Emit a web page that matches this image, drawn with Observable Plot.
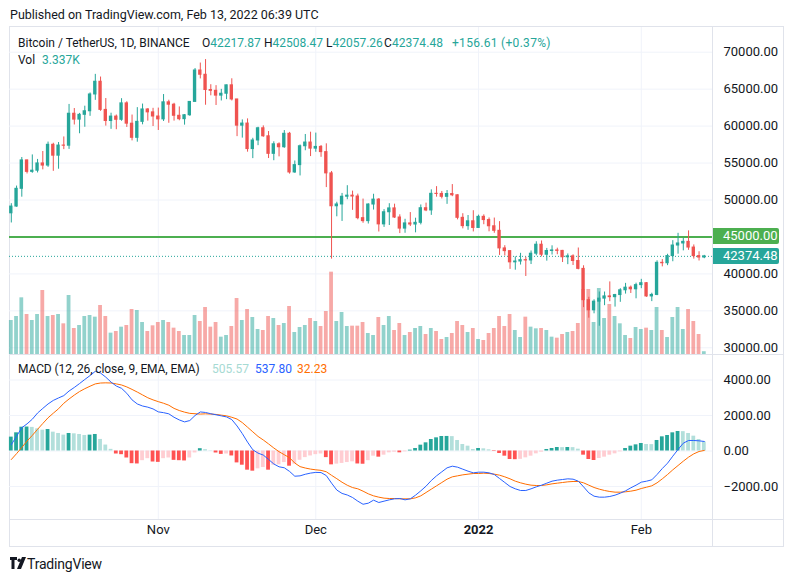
<!DOCTYPE html>
<html>
<head>
<meta charset="utf-8">
<script src="https://cdn.jsdelivr.net/npm/d3@7"></script>
<script src="https://cdn.jsdelivr.net/npm/@observablehq/plot@0.6"></script>
<style>
  html, body { margin: 0; padding: 0; background: #ffffff; }
  #wrap { position: relative; width: 793px; height: 582px; overflow: hidden; background: #ffffff;
          font-family: Roboto, "Noto Sans", sans-serif; color: #131722; }
  .t { position: absolute; white-space: nowrap; font-size: 12px; line-height: 16px; }
  .hl { position: absolute; background: #e0e3eb; }
  .box { position: absolute; left: 713px; width: 66px; height: 16px; line-height: 16px; color: #fff;
         font-size: 13px; padding-left: 10px; box-sizing: border-box; border-radius: 0 2px 2px 0; }
</style>
</head>
<body>
<div id="wrap"></div>
<script>
// ---------------- data ----------------
const startDate = "2021-10-04";
const openP = [48199,49112,51514,55361,53805,53967,54949,54659,57471,55996,57367,57347,61672,60875,61528,62009,64280,66001,62193,60688,61286,60852,63078,60328,58413,60575,62253,61859,
61299,60911,63219,62896,61395,60937,61470,63273,67525,66947,64882,64774,64122,64380,65519,63606,60058,60344,56891,58052,59707,58622,56247,57541,57139,58960,53726,54721,57274,57776,
56950,57184,56480,53602,49152,49397,50441,50588,50471,47545,47140,49389,50053,46702,48343,48864,47632,46131,46834,46681,46914,48889,48588,50838,50821,50429,50809,50640,47588,46464,47120,
46216,47722,47286,46446,45832,43451,43082,41566,41679,41864,41822,42735,43949,42592,43099,43177,43113,42250,42375,41744,40680,36445,35071,36244,36654,36954,36852,37138,37784,38138,37917,
38483,38743,36952,37154,41500,41441,42412,43840,44118,44338,43565,42407,42217.87];
const highP = [49500,51886,55750,55400,56100,55490,56561,57839,57680,57777,58532,62933,62378,61718,62695,64486,67000,66639,63732,61747,61500,63710,63293,61496,62499,62980,62359,62405,
62437,64270,63500,63086,62595,61560,63286,67789,68530,69000,65600,65473,64971,65550,66401,63617,60840,60976,58350,59845,60029,59266,57875,57735,59398,59150,55280,57445,58865,59176,
59053,57375,57600,53859,49699,50891,51936,51200,50797,50125,49485,50777,50189,48700,49500,49436,47995,47392,48300,47537,49328,49576,51375,51810,51156,51280,52088,50704,48142,47900,48548,
47954,47990,47570,47557,47070,43816,43145,42300,42786,42248,43100,44350,44458,43448,43800,43480,43180,42700,42579,43505,41100,36835,36499,37550,37545,38919,37234,38000,38720,38359,38744,
39265,38834,37387,41772,41939,42656,44500,45492,44798,45821,43920,43000,42508.47];
const lowP = [46891,49022,50382,53525,53617,53661,54080,54416,53879,54167,56818,56850,60150,58963,59844,61322,63481,62000,60000,59562,59510,60650,59817,58000,57820,60174,60673,59945,
59405,60624,60382,60677,60721,60129,61322,63273,66382,62822,64100,62788,63400,63577,63400,58574,58373,56474,55600,57353,58486,55610,55317,55837,57000,53500,53611,53256,56666,55875,
56458,55777,51680,42000,47727,47100,50039,48600,47320,46852,46751,48638,45672,46290,46547,47511,45456,45500,46406,45558,46630,48421,47920,50384,50142,49412,50449,47313,46096,45900,45678,
46208,46654,45696,45500,42500,42430,40610,40501,41200,39650,41268,42450,42311,41725,42555,42592,41540,41251,41138,40553,35440,34008,34601,32917,35701,36234,35507,36155,37268,37351,36632,
38000,36832,36250,37052,40954,41116,41645,42667,43117,43188,42000,41748,42057.26];
const closeP = [49112,51514,55361,53805,53967,54949,54659,57471,55996,57367,57347,61672,60875,61528,62009,64280,66001,62193,60688,61286,60852,63078,60328,58413,60575,62253,61859,61299,
60911,63219,62896,61395,60937,61470,63273,67525,66947,64882,64774,64122,64380,65519,63606,60058,60344,56891,58052,59707,58622,56247,57541,57139,58960,53726,54721,57274,57776,56950,
57184,56480,53602,49152,49397,50441,50588,50471,47545,47140,49389,50053,46702,48343,48864,47632,46131,46834,46681,46914,48889,48588,50838,50821,50429,50809,50640,47588,46464,47120,46216,
47722,47286,46446,45832,43451,43082,41566,41679,41864,41822,42735,43949,42592,43099,43177,43113,42250,42375,41744,40680,36445,35071,36244,36654,36954,36852,37138,37784,38138,37917,38483,
38743,36952,37154,41500,41441,42412,43840,44118,44338,43565,42407,42217.87,42374.48];
const volume = [40800,45600,68000,48000,40800,48000,76800,45600,46800,48000,36800,70800,31200,34800,45600,46800,44800,58800,45600,25600,27600,32800,34800,54000,52800,38400,27600,34400,
38400,40800,38400,31600,27600,22800,22800,46800,39600,56400,32800,38400,20800,22800,33600,67200,40800,54000,44400,30000,28800,45600,43200,34800,37200,57600,26400,32400,34800,43200,
39600,33600,51600,98800,39600,50400,33600,34000,34000,38400,25200,22800,44400,34800,45600,28800,37200,22800,26400,31200,33600,24000,31200,27600,18000,20400,25200,39600,34800,26400,31200,
18000,16800,25200,31200,45600,33600,48000,28800,20400,44800,32800,30800,31200,28800,20800,19600,24000,26400,27600,37200,78000,78000,38400,79200,43200,60000,45600,36800,22800,19200,32400,
30000,31600,28800,56400,28800,20400,44400,56400,30000,54000,39600,24000,3337];
const macdLine = [355,830,1310,1530,1790,2140,2400,2650,2850,2990,
3120,3380,3580,3800,4030,4250,4490,4390,4160,3880,
3660,3530,3250,2880,2650,2535,2470,2370,2205,2160,
2095,1900,1750,1640,1715,2000,2200,2170,2100,2040,
1980,1920,1770,1410,980,500,70,-120,-230,-475,
-730,-890,-945,-1150,-1420,-1400,-1310,-1245,-1205,-1215,
-1385,-1810,-2200,-2390,-2480,-2620,-2826,-3000,-2940,-2770,
-2902,-2826,-2751,-2695,-2676,-2751,-2695,-2488,-2244,-1981,
-1662,-1399,-1174,-948,-855,-911,-1024,-1136,-1230,-1193,
-1193,-1230,-1324,-1549,-1775,-2000,-2131,-2225,-2225,-2131,
-2019,-1925,-1812,-1700,-1643,-1606,-1568,-1587,-1700,-2019,
-2357,-2545,-2601,-2601,-2563,-2488,-2376,-2244,-2075,-1925,
-1756,-1700,-1624,-1324,-986,-685,-291,85,441,592,
592,573,537.80];
const signalLine = [-480,-150,200,560,880,1220,1550,1870,2130,2380,
2690,2930,3150,3350,3510,3650,3780,3830,3840,3830,
3780,3720,3610,3470,3320,3160,3000,2880,2780,2690,
2580,2400,2280,2190,2120,2100,2080,2095,2080,2060,
2020,1980,1900,1800,1600,1340,1080,820,620,400,
170,-40,-210,-380,-680,-880,-960,-1020,-1060,-1090,
-1170,-1370,-1560,-1760,-1930,-2060,-2130,-2263,-2413,-2526,
-2601,-2657,-2676,-2676,-2695,-2695,-2695,-2639,-2526,-2338,
-2150,-1962,-1775,-1587,-1455,-1399,-1343,-1305,-1268,-1268,
-1249,-1268,-1305,-1362,-1455,-1568,-1700,-1793,-1869,-1925,
-1944,-1944,-1906,-1850,-1812,-1775,-1737,-1718,-1718,-1793,
-1925,-2056,-2150,-2225,-2282,-2319,-2319,-2300,-2263,-2207,
-2113,-2038,-1962,-1793,-1568,-1324,-1061,-817,-573,-347,
-160,-28,32.23];
const histogram = [782,1024,1341,1350,1330,1248,1173,1210,1061,987,
894,987,968,931,875,894,931,652,335,93,
-169,-207,-394,-714,-730,-545,-432,-620,-640,-432,
-394,-526,-545,-560,-394,-110,130,74,15,-112,
-190,-170,-279,-670,-800,-1080,-1136,-1005,-931,-1080,
-800,-780,-652,-856,-745,-521,-372,-279,-205,-168,
-372,-780,-740,-700,-650,-610,-730,-745,-545,-291,
-347,-235,-103,-66,-103,-47,47,141,329,460,
648,742,817,820,810,592,366,272,85,141,
122,66,-28,-141,-291,-479,-490,-470,-385,-291,
-160,-66,85,141,197,190,197,190,103,-235,
-479,-535,-423,-347,-235,-160,-47,141,272,347,
423,366,360,592,798,873,1024,1099,1090,986,
836,648,505.57];
const priceTicks = [30000,35000,40000,45000,50000,55000,60000,65000,70000];
const macdTicks = [-2000,0,2000,4000];
const timeTickDates = ["2021-11-01","2021-12-01","2022-01-01","2022-02-01"];
const timeTickLabels = ["Nov","Dec","2022","Feb"];
const levelPrice = 45000;
const lastPrice = 42374.48;

// ---------------- build table ----------------
const DAY = 864e5;
const day0 = new Date(startDate + "T00:00:00Z");
const shift = (d, f) => new Date(+d + f * DAY);
const rows = closeP.map((c, i) => ({
  date: d3.utcDay.offset(day0, i),
  open: openP[i], high: highP[i], low: lowP[i], close: c,
  volume: volume[i], macd: macdLine[i], signal: signalLine[i], hist: histogram[i],
  up: c >= openP[i]
}));
rows.forEach((r, i) => {
  const prev = i > 0 ? histogram[i - 1] : r.hist;
  r.histColor = r.hist >= 0 ? (r.hist >= prev ? "#26a69a" : "#b2dfdb") : (r.hist <= prev ? "#ff5252" : "#ffcdd2");
});
const ups = rows.filter(r => r.up), downs = rows.filter(r => !r.up);
const timeTicks = timeTickDates.map((d, i) => ({date: new Date(d + "T00:00:00Z"), label: timeTickLabels[i]}));

const TEAL = "#26a69a", RED = "#ef5350", GRID = "#f0f3fa";
const W = 793, ML = 9, MR = 81;
const xDomain = [shift(day0, -0.343), shift(day0, 133.56)];
const style = {background: "transparent", fontFamily: "Roboto, sans-serif", fontSize: "13px", color: "#131722", overflow: "visible"};
const PANE_TOP = 27, PANE_H = 327;
const priceDomain = [29094, 73342];

const wrap = document.getElementById("wrap");
function put(el, left, top) { el.style.position = "absolute"; el.style.left = left + "px"; el.style.top = top + "px"; wrap.appendChild(el); return el; }

// frame
const frame = document.createElement("div");
frame.style.cssText = "width:775px;height:521px;border:1px solid #e0e3eb;box-sizing:border-box;";
put(frame, 9, 26);

// volume layer (with grid)
const volChart = Plot.plot({
  width: W, height: PANE_H, marginLeft: ML, marginRight: MR, marginTop: 0, marginBottom: 0,
  x: {type: "utc", domain: xDomain, axis: null},
  y: {domain: [0, PANE_H * 1200], axis: null},
  style,
  marks: [
    Plot.ruleY(priceTicks.map(v => (v - priceDomain[0]) / (priceDomain[1] - priceDomain[0]) * PANE_H * 1200), {stroke: GRID, strokeOpacity: 1}),
    Plot.ruleX(timeTicks, {x: "date", stroke: GRID, strokeOpacity: 1}),
    Plot.rect(ups, {x1: d => shift(d.date, -0.36), x2: d => shift(d.date, 0.36), y1: d => 0, y2: "volume", fill: TEAL, fillOpacity: 0.5}),
    Plot.rect(downs, {x1: d => shift(d.date, -0.36), x2: d => shift(d.date, 0.36), y1: d => 0, y2: "volume", fill: RED, fillOpacity: 0.5})
  ]
});
put(volChart, 0, PANE_TOP);

// price layer
const priceChart = Plot.plot({
  width: W, height: PANE_H, marginLeft: ML, marginRight: MR, marginTop: 0, marginBottom: 0,
  x: {type: "utc", domain: xDomain, axis: null},
  y: {domain: priceDomain, axis: null},
  style,
  marks: [
    Plot.ruleY([levelPrice], {stroke: "#4caf50", strokeWidth: 2}),
    Plot.ruleY([lastPrice], {stroke: TEAL, strokeWidth: 1, strokeDasharray: "1,2"}),
    Plot.ruleX(ups, {x: "date", y1: "low", y2: "high", stroke: TEAL, strokeWidth: 1}),
    Plot.ruleX(downs, {x: "date", y1: "low", y2: "high", stroke: RED, strokeWidth: 1}),
    Plot.rect(ups, {x1: d => shift(d.date, -0.32), x2: d => shift(d.date, 0.32), y1: "open", y2: "close", fill: TEAL, insetTop: -0.5, insetBottom: -0.5}),
    Plot.rect(downs, {x1: d => shift(d.date, -0.32), x2: d => shift(d.date, 0.32), y1: "open", y2: "close", fill: RED, insetTop: -0.5, insetBottom: -0.5}),
    Plot.text(priceTicks, {y: d => d, text: d => d.toFixed(2), frameAnchor: "right", dx: 11, textAnchor: "start", fill: "#131722", fontSize: 13})
  ]
});
put(priceChart, 0, PANE_TOP);

// MACD layer with time axis
const macdChart = Plot.plot({
  width: W, height: 191, marginLeft: ML, marginRight: MR, marginTop: 0, marginBottom: 28,
  x: {type: "utc", domain: xDomain, axis: null},
  y: {domain: [-3859, 5324], axis: null},
  style,
  marks: [
    Plot.ruleY(macdTicks, {stroke: GRID, strokeOpacity: 1}),
    Plot.ruleX(timeTicks, {x: "date", stroke: GRID, strokeOpacity: 1}),
    Plot.rect(rows, {x1: d => shift(d.date, -0.36), x2: d => shift(d.date, 0.36), y1: d => 0, y2: "hist", fill: "histColor"}),
    Plot.line(rows, {x: "date", y: "signal", stroke: "#ff6d00", strokeWidth: 1}),
    Plot.line(rows, {x: "date", y: "macd", stroke: "#2962ff", strokeWidth: 1}),
    Plot.text(macdTicks, {y: d => d, text: d => (d < 0 ? "\u2212" : "") + Math.abs(d).toFixed(2), frameAnchor: "right", dx: 11, textAnchor: "start", fill: "#131722", fontSize: 13}),
    Plot.text(timeTicks.filter(t => t.label !== "2022"), {x: "date", text: "label", frameAnchor: "bottom", dy: 14, fill: "#131722", fontSize: 13}),
    Plot.text(timeTicks.filter(t => t.label === "2022"), {x: "date", text: "label", frameAnchor: "bottom", dy: 14, fill: "#131722", fontSize: 13, fontWeight: "bold"})
  ]
});
put(macdChart, 0, 356);

// separators
function hline(x, y, w) { const d = document.createElement("div"); d.className = "hl"; d.style.width = w + "px"; d.style.height = "1px"; put(d, x, y); }
function vline(x, y, h) { const d = document.createElement("div"); d.className = "hl"; d.style.width = "1px"; d.style.height = h + "px"; put(d, x, y); }
hline(9, 354, 775);
hline(9, 519, 775);
vline(712, 26, 521);

// price labels on axis
const ys = priceChart.scale("y");
function priceBox(v, bg) {
  const b = document.createElement("div"); b.className = "box"; b.style.background = bg;
  b.textContent = v.toFixed(2);
  b.style.left = "713px"; b.style.top = (PANE_TOP + ys.apply(v) - 8) + "px";
  b.style.position = "absolute"; wrap.appendChild(b);
}
priceBox(levelPrice, "#4caf50");
priceBox(lastPrice, TEAL);

// texts
function text(str, x, y, css) { const s = document.createElement("div"); s.className = "t"; s.innerHTML = str; if (css) s.style.cssText += css; put(s, x, y); return s; }
text("Published on TradingView.com, Feb 13, 2022 06:39 UTC", 10, 7, "font-size:12.5px;");
text("Bitcoin / TetherUS, 1D, BINANCE", 18, 35);
const up = "color:#26a69a";
const n = closeP.length - 1;
text(`O<span style="${up}">${openP[n].toFixed(2)}</span>`, 202, 35);
text(`H<span style="${up}">${highP[n].toFixed(2)}</span>`, 264, 35);
text(`L<span style="${up}">${lowP[n].toFixed(2)}</span>`, 326, 35);
text(`C<span style="${up}">${closeP[n].toFixed(2)}</span>`, 384, 35, "letter-spacing:0.1px;");
text(`<span style="${up}">+156.61 (+0.37%)</span>`, 452, 35, "letter-spacing:0.3px;");
text(`Vol <span style="${up};margin-left:4px">3.337K</span>`, 18, 52);
text("MACD (12, 26, close, 9, EMA, EMA)", 18, 361, "letter-spacing:-0.1px;");
text(`<span style="color:#a6dad3">${histogram[n].toFixed(2)}</span>`, 212, 361);
text(`<span style="color:#2962ff">${macdLine[n].toFixed(2)}</span>`, 255, 361);
text(`<span style="color:#ff6d00">${signalLine[n].toFixed(2)}</span>`, 297, 361);

// logo
text(`<svg width="16" height="12" viewBox="0 0 16 12" style="vertical-align:-1px"><path d="M0 0h7v3H4.5v9h-3V3H0z" fill="#131722"/><circle cx="9.2" cy="3.2" r="1.7" fill="#131722"/><path d="M12 0h4l-5 12H7z" fill="#131722"/></svg>`, 10, 556);
text("TradingView", 27, 556, "font-size:14px;letter-spacing:-0.2px;");
</script>
</body>
</html>
